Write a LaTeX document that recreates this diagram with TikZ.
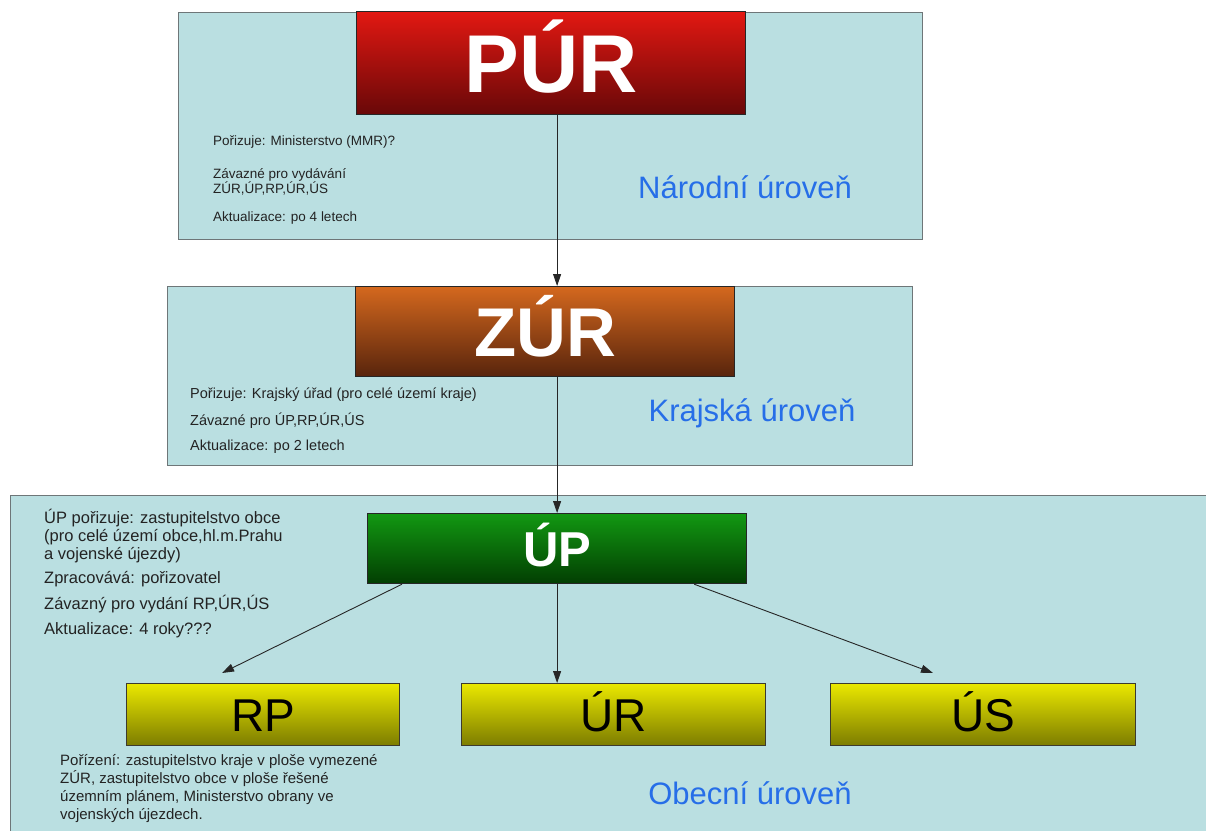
\documentclass[tikz,border=0pt]{standalone}
\usepackage{fontspec}
\setmainfont{Liberation Sans}
\usetikzlibrary{arrows.meta}

\definecolor{panelfill}{RGB}{186,223,225}
\definecolor{panelline}{RGB}{110,118,120}
\definecolor{leveltext}{RGB}{38,110,232}
\definecolor{notetext}{RGB}{35,35,35}
\definecolor{purtop}{RGB}{226,24,18}
\definecolor{purbot}{RGB}{104,8,8}
\definecolor{zurtop}{RGB}{212,104,30}
\definecolor{zurbot}{RGB}{88,36,12}
\definecolor{uptop}{RGB}{18,152,18}
\definecolor{upbot}{RGB}{2,62,2}
\definecolor{yeltop}{RGB}{234,232,0}
\definecolor{yelbot}{RGB}{124,124,0}

\tikzset{
  panel/.style={draw=panelline, line width=1.2pt, fill=panelfill, anchor=north west, inner sep=0pt},
  plan/.style={draw=black!85, line width=1.2pt, anchor=north west, inner sep=0pt, text=white, text depth=0pt},
  docbox/.style={draw=black!75!olive, line width=1.2pt, anchor=north west, inner sep=0pt,
    top color=yeltop, bottom color=yelbot, minimum height=62pt, text height=33pt, text depth=0pt,
    font=\fontsize{46}{50}\selectfont},
  level/.style={text=leveltext, font=\fontsize{31}{36}\selectfont},
  note/.style={text=notetext, anchor=west, align=left, inner sep=0pt},
  link/.style={-{Triangle[length=12pt,width=8pt]}, line width=0.9pt, draw=black!85},
}

\begin{document}
\begin{tikzpicture}[x=1pt,y=-1pt]
  \useasboundingbox (0,0) rectangle (1206,830);
  \clip (0,0) rectangle (1206,830);

  % urovne
  \node[panel, minimum width=744pt, minimum height=227pt] (narodni) at (178,12) {};
  \node[panel, minimum width=745pt, minimum height=179pt] (krajska) at (167,286) {};
  \node[panel, minimum width=1220pt, minimum height=350pt] (obecni) at (10,495) {};

  % narodni uroven
  \node[plan, top color=purtop, bottom color=purbot, minimum width=389pt, minimum height=103pt,
        text height=58pt, font=\bfseries\fontsize{82}{90}\selectfont] (pur) at (356,11) {PÚR};
  \node[note, font=\fontsize{13.5}{15}\selectfont] (purby) at (213,142) {Pořizuje: Ministerstvo (MMR)?};
  \node[note, font=\fontsize{13.5}{15}\selectfont] (purbinds) at (213,181.5) {Závazné pro vydávání\\ZÚR,ÚP,RP,ÚR,ÚS};
  \node[note, font=\fontsize{13.5}{15}\selectfont] (purupd) at (213,218) {Aktualizace: po 4 letech};
  \node[level] (narodnilbl) at (745,187) {Národní úroveň};

  % krajska uroven
  \node[plan, top color=zurtop, bottom color=zurbot, minimum width=379pt, minimum height=90pt,
        text height=49pt, font=\bfseries\fontsize{69}{76}\selectfont] (zur) at (355,286) {ZÚR};
  \node[note, font=\fontsize{14.5}{16}\selectfont] (zurby) at (190,395) {Pořizuje: Krajský úřad (pro celé území kraje)};
  \node[note, font=\fontsize{14.5}{16}\selectfont] (zurbinds) at (190,421) {Závazné pro ÚP,RP,ÚR,ÚS};
  \node[note, font=\fontsize{14.5}{16}\selectfont] (zurupd) at (190,447) {Aktualizace: po 2 letech};
  \node[level] (krajskalbl) at (752,413) {Krajská úroveň};

  % obecni uroven
  \node[plan, top color=uptop, bottom color=upbot, minimum width=379pt, minimum height=70pt,
        text height=35pt, font=\bfseries\fontsize{49}{54}\selectfont] (up) at (367,513) {ÚP};
  \node[note, font=\fontsize{16.5}{18}\selectfont] (upby) at (44,536) {ÚP pořizuje: zastupitelstvo obce\\(pro celé území obce,hl.m.Prahu\\a vojenské újezdy)};
  \node[note, font=\fontsize{16.5}{18}\selectfont] (upmake) at (44,579) {Zpracovává: pořizovatel};
  \node[note, font=\fontsize{16.5}{18}\selectfont] (upbinds) at (44,604) {Závazný pro vydání RP,ÚR,ÚS};
  \node[note, font=\fontsize{16.5}{18}\selectfont] (upupd) at (44,630) {Aktualizace: 4 roky???};

  \node[docbox, minimum width=273pt] (rp) at (126,683) {RP};
  \node[docbox, minimum width=304pt] (ur) at (461,683) {ÚR};
  \node[docbox, minimum width=305pt] (us) at (830,683) {ÚS};

  \node[note, font=\fontsize{15}{17.7}\selectfont] (rpby) at (60,788.5) {Pořízení: zastupitelstvo kraje v ploše vymezené\\ZÚR, zastupitelstvo obce v ploše řešené\\územním plánem, Ministerstvo obrany ve\\vojenských újezdech.};
  \node[level] (obecnilbl) at (750,793) {Obecní úroveň};

  % sipky
  \draw[link] (pur.south -| up.north) -- (zur.north -| up.north);
  \draw[link] (zur.south -| up.north) -- (up.north);
  \draw[link] ([xshift=35pt]up.south west) -- ([xshift=96pt,yshift=10pt]rp.north west);
  \draw[link] (up.south) -- (ur.north -| up.south);
  \draw[link] ([xshift=-53pt]up.south east) -- ([xshift=103pt,yshift=10pt]us.north west);
\end{tikzpicture}
\end{document}
